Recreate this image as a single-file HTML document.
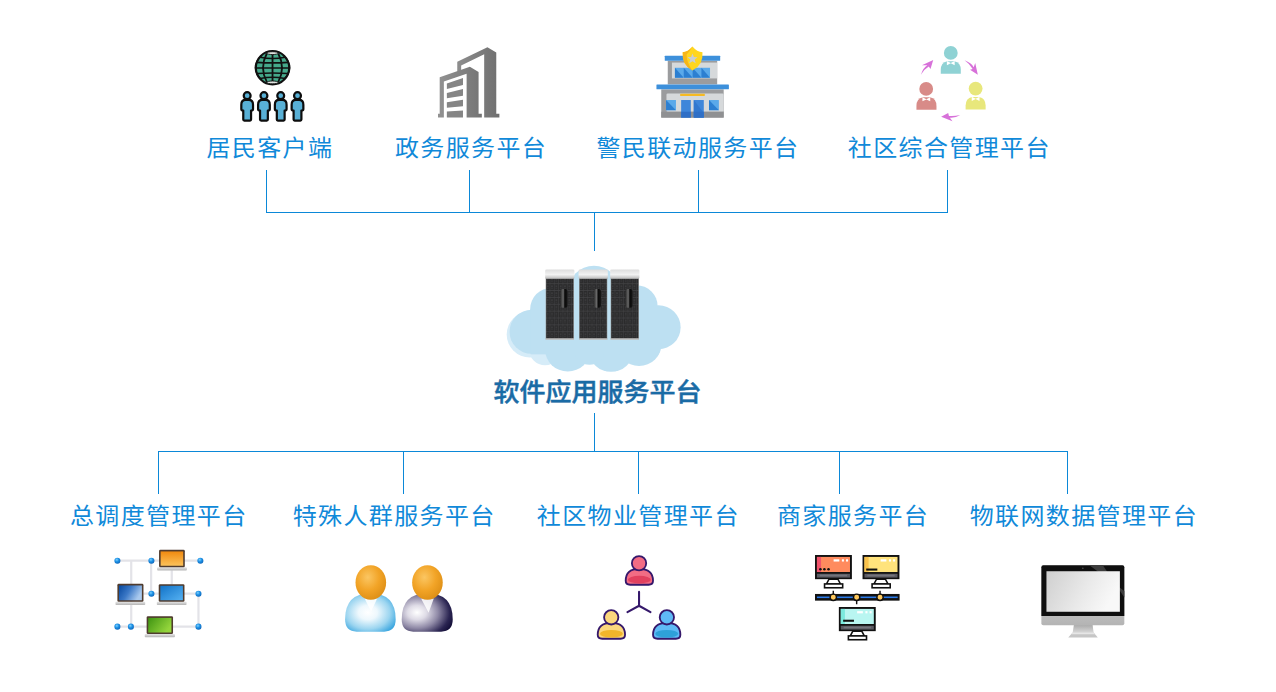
<!DOCTYPE html>
<html lang="zh-CN">
<head>
<meta charset="utf-8">
<title>软件应用服务平台</title>
<style>
html,body{margin:0;padding:0;background:#fff;}
body{width:1276px;height:692px;position:relative;overflow:hidden;font-family:"Liberation Sans","Noto Sans CJK SC",sans-serif;}
.lines{position:absolute;left:0;top:0;width:1276px;height:692px;}
.lb{position:absolute;white-space:nowrap;font-size:24px;letter-spacing:1.37px;line-height:30px;height:30px;color:#1089d9;font-weight:400;transform:scaleY(0.955);transform-origin:0 50%;}
.ct{position:absolute;white-space:nowrap;font-size:26px;line-height:30px;height:30px;color:#1a6ba5;font-weight:500;-webkit-text-stroke:0.45px #1a6ba5;transform:scaleY(0.95);transform-origin:0 50%;}
.ic{position:absolute;}
</style>
</head>
<body>
<svg class="lines" width="1276" height="692" viewBox="0 0 1276 692" shape-rendering="crispEdges">
<g fill="#0b88d8">
<rect x="266" y="170" width="1" height="43"/>
<rect x="469" y="170" width="1" height="43"/>
<rect x="698" y="170" width="1" height="43"/>
<rect x="947" y="170" width="1" height="43"/>
<rect x="266" y="212" width="682" height="1"/>
<rect x="594" y="212" width="1" height="39"/>
<rect x="594" y="413" width="1" height="39"/>
<rect x="158" y="451" width="910" height="1"/>
<rect x="158" y="451" width="1" height="43"/>
<rect x="403" y="451" width="1" height="43"/>
<rect x="638" y="451" width="1" height="43"/>
<rect x="839" y="451" width="1" height="43"/>
<rect x="1067" y="451" width="1" height="43"/>
</g>
</svg>

<div class="lb" id="t1" style="left:206.5px;top:133px;">居民客户端</div>
<div class="lb" id="t2" style="left:395px;top:133px;">政务服务平台</div>
<div class="lb" id="t3" style="left:596.5px;top:133px;">警民联动服务平台</div>
<div class="lb" id="t4" style="left:847.8px;top:133px;">社区综合管理平台</div>

<div class="ct" id="tc" style="left:493.5px;top:377px;">软件应用服务平台</div>

<div class="lb" id="b1" style="left:70px;top:501px;">总调度管理平台</div>
<div class="lb" id="b2" style="left:292.7px;top:501px;">特殊人群服务平台</div>
<div class="lb" id="b3" style="left:536.8px;top:501px;">社区物业管理平台</div>
<div class="lb" id="b4" style="left:777px;top:501px;">商家服务平台</div>
<div class="lb" id="b5" style="left:969.7px;top:501px;">物联网数据管理平台</div>


<!-- icon: residents client (globe + people) -->
<svg class="ic" style="left:230px;top:40px" width="90" height="90" viewBox="0 0 692 692">
  <circle cx="327" cy="213" r="128" fill="#45a98b" stroke="#111" stroke-width="16"/>
  <g fill="none" stroke="#111" stroke-width="14">
    <path d="M327 88V338"/>
    <path d="M283 104Q225 213 283 322"/>
    <path d="M371 104Q429 213 371 322"/>
    <path d="M240 122Q150 213 240 304" stroke-width="11"/>
    <path d="M414 122Q504 213 414 304" stroke-width="11"/>
    <path d="M232 132Q327 152 422 132" stroke-width="12"/>
    <path d="M208 172Q327 180 446 172" stroke-width="12"/>
    <path d="M200 215H454" stroke-width="12"/>
    <path d="M208 258Q327 250 446 258" stroke-width="12"/>
    <path d="M232 296Q327 276 422 296" stroke-width="12"/>
  </g>
  <ellipse cx="327" cy="101" rx="44" ry="11" fill="#dfe2df" stroke="#111" stroke-width="7"/>
  <ellipse cx="327" cy="326" rx="44" ry="11" fill="#dfe2df" stroke="#111" stroke-width="7"/>
  <g fill="#58b0d6" stroke="#0d0d0d" stroke-width="17" stroke-linejoin="round">
    <g id="pp">
      <path d="M120 461h24q33 0 33 36v36q0 9-15 9v70q0 8-8 8h-44q-8 0-8-8v-70q-15 0-15-9v-36q0-36 33-36z"/>
      <circle cx="132" cy="428" r="26.5"/>
    </g>
    <use href="#pp" x="129"/>
    <use href="#pp" x="258"/>
    <use href="#pp" x="387"/>
  </g>
</svg>

<!-- icon: government building -->
<svg class="ic" style="left:425px;top:35px" width="90" height="90" viewBox="0 0 692 692">
  <defs>
    <linearGradient id="bg1" x1="0" y1="0" x2="1" y2="0"><stop offset="0" stop-color="#8d8d8d"/><stop offset="1" stop-color="#6f6f6f"/></linearGradient>
    <linearGradient id="bg2" x1="0" y1="0" x2="1" y2="0"><stop offset="0" stop-color="#929292"/><stop offset="1" stop-color="#747474"/></linearGradient>
  </defs>
  <polygon fill="url(#bg1)" points="248,205 480,95 548,135 548,605 572,605 572,635 455,635 455,148 278,235 278,272 248,282"/>
  <polygon fill="url(#bg2)" points="113,325 345,245 412,285 412,605 437,605 437,635 320,635 320,298 145,358 145,635 100,635 100,605 113,605"/>
  <g fill="#858585">
    <polygon points="168,372 292,330 292,385 168,415"/>
    <polygon points="168,445 292,415 292,467 168,487"/>
    <polygon points="168,517 292,498 292,547 168,559"/>
    <polygon points="168,588 292,580 292,635 168,635"/>
  </g>
</svg>

<!-- icon: police station -->
<svg class="ic" style="left:645px;top:35px" width="90" height="90" viewBox="0 0 692 692">
  <rect x="175" y="198" width="380" height="182" fill="#9b9c9e"/>
  <rect x="207" y="212" width="348" height="122" fill="#d6d9db"/>
  <rect x="152" y="160" width="426" height="38" rx="4" fill="#3d90db"/>
  <g>
    <rect x="230" y="252" width="270" height="76" fill="#5aa9ea"/>
    <polygon points="230,252 298,328 230,328" fill="#2c7fd1"/>
    <polygon points="298,252 366,328 298,328" fill="#2c7fd1"/>
    <polygon points="366,252 434,328 366,328" fill="#2c7fd1"/>
    <polygon points="434,252 500,328 434,328" fill="#2c7fd1"/>
  </g>
  <path d="M365 88Q400 130 442 132Q450 230 365 272Q282 230 290 132Q330 130 365 88z" fill="#ffd61f"/>
  <path d="M365 88Q330 130 290 132Q282 230 365 272Q320 215 320 150Q345 125 365 88z" fill="#f6b519"/>
  <polygon points="365,143 376,170 404,171 382,189 390,217 365,201 340,217 348,189 326,171 354,170" fill="#c9ced3"/>
  <rect x="125" y="418" width="480" height="217" fill="#9b9c9e"/>
  <rect x="165" y="450" width="440" height="140" rx="10" fill="#d6d9db"/>
  <rect x="125" y="590" width="480" height="45" fill="#8f9092"/>
  <rect x="88" y="380" width="557" height="38" rx="4" fill="#3d90db"/>
  <rect x="270" y="452" width="190" height="17" rx="3" fill="#f6ba22"/>
  <rect x="162" y="500" width="76" height="78" fill="#5aa9ea"/><polygon points="162,500 238,578 162,578" fill="#2c7fd1"/>
  <rect x="492" y="500" width="76" height="78" fill="#5aa9ea"/><polygon points="492,500 568,578 492,578" fill="#2c7fd1"/>
  <rect x="278" y="500" width="74" height="135" fill="#3e86da"/>
  <rect x="375" y="500" width="77" height="135" fill="#3e86da"/>
  <polygon points="375,500 452,600 452,635 375,635" fill="#3278cf"/>
  <rect x="278" y="590" width="74" height="45" fill="#2f6fc6"/>
  <rect x="375" y="590" width="77" height="45" fill="#2f6fc6"/>
</svg>

<!-- icon: community management (people cycle) -->
<svg class="ic" style="left:905px;top:35px" width="90" height="90" viewBox="0 0 692 692">
  <g fill="#8fd2d4">
    <circle cx="352" cy="138" r="53"/>
    <path d="M275 297v-30q0-55 50-66h54q50 11 50 66v30z"/>
  </g>
  <path d="M352 216l-30-16v32l30-14 30 14v-32z" fill="#fff"/>
  <g fill="#d88b88">
    <circle cx="163" cy="415" r="53"/>
    <path d="M88 575v-30q0-55 50-66h54q50 11 50 66v30z"/>
  </g>
  <path d="M164 494l-30-16v32l30-14 30 14v-32z" fill="#fff"/>
  <g fill="#e8e77c">
    <circle cx="543" cy="412" r="53"/>
    <path d="M466 572v-30q0-55 50-66h54q50 11 50 66v30z"/>
  </g>
  <path d="M543 491l-30-16v32l30-14 30 14v-32z" fill="#fff"/>
  <g fill="#d771d9">
    <path d="M122 305Q140 250 172 232L130 232L217 193L196 262L183 243Q150 262 122 305z"/>
    <path d="M458 195Q510 215 528 248L540 215L560 305L500 268L520 262Q500 225 458 195z"/>
    <path d="M425 615Q385 640 345 636L365 663L278 628L332 600L338 622Q380 625 425 615z"/>
  </g>
</svg>

<!-- center: cloud + servers -->
<svg class="ic" style="left:500px;top:255px" width="190" height="125" viewBox="0 0 1052 692">
  <defs>
    <pattern id="mesh" width="24" height="38" patternUnits="userSpaceOnUse">
      <rect width="24" height="38" fill="#2b2b2c"/>
      <rect x="0" y="0" width="24" height="4" fill="#454547"/>
      <rect x="0" y="0" width="3" height="38" fill="#414143"/>
      <rect x="11" y="14" width="6" height="6" fill="#505052"/>
      <rect x="11" y="26" width="6" height="6" fill="#3e3e40"/>
    </pattern>
    <linearGradient id="cap" x1="0" y1="0" x2="0" y2="1"><stop offset="0" stop-color="#dcdcdc"/><stop offset="0.55" stop-color="#f2f2f2"/><stop offset="1" stop-color="#b9b9b9"/></linearGradient>
    <linearGradient id="hdl" x1="0" y1="0" x2="1" y2="0"><stop offset="0" stop-color="#2a2a2a"/><stop offset="0.4" stop-color="#6a6a6a"/><stop offset="0.62" stop-color="#0a0a0a"/><stop offset="1" stop-color="#161616"/></linearGradient>
    <g id="srv">
      <rect x="3" y="45" width="156" height="343" fill="#8e8e8e"/>
      <rect x="6" y="50" width="150" height="332" fill="url(#mesh)"/>
      <rect x="0" y="0" width="162" height="52" rx="8" fill="url(#cap)"/>
      <rect x="3" y="382" width="156" height="7" fill="#c9c9c9"/>
      <rect x="84" y="108" width="40" height="104" rx="14" fill="url(#hdl)"/>
    </g>
  </defs>
  <g fill="#d6ecf8">
    <circle cx="165" cy="440" r="128"/>
    <circle cx="250" cy="520" r="90"/>
  </g>
  <g fill="#bde0f2">
    <circle cx="520" cy="205" r="145"/>
    <circle cx="285" cy="300" r="118"/>
    <circle cx="175" cy="425" r="122"/>
    <circle cx="755" cy="285" r="118"/>
    <circle cx="878" cy="400" r="122"/>
    <ellipse cx="375" cy="525" rx="125" ry="120"/>
    <ellipse cx="615" cy="535" rx="120" ry="112"/>
    <ellipse cx="770" cy="490" rx="125" ry="125"/>
    <ellipse cx="495" cy="540" rx="80" ry="68"/>
    <rect x="170" y="300" width="710" height="250"/>
  </g>
  <use href="#srv" x="250" y="80"/>
  <use href="#srv" x="435" y="80"/>
  <use href="#srv" x="610" y="80"/>
</svg>

<!-- icon: dispatch network -->
<svg class="ic" style="left:105px;top:540px" width="110" height="110" viewBox="0 0 692 692">
  <defs>
    <linearGradient id="lo" x1="0" y1="0" x2="0" y2="1"><stop offset="0" stop-color="#f08a10"/><stop offset="1" stop-color="#fcc25a"/></linearGradient>
    <linearGradient id="ld" x1="0" y1="0" x2="1" y2="0.4"><stop offset="0" stop-color="#07489f"/><stop offset="0.5" stop-color="#3b78c6"/><stop offset="1" stop-color="#a9c9ee"/></linearGradient>
    <linearGradient id="lbm" x1="0" y1="0" x2="1" y2="1"><stop offset="0" stop-color="#1273c8"/><stop offset="1" stop-color="#55b1f2"/></linearGradient>
    <linearGradient id="lg" x1="0" y1="0" x2="1" y2="0.5"><stop offset="0" stop-color="#3f9412"/><stop offset="1" stop-color="#94d53c"/></linearGradient>
    <linearGradient id="lbase" x1="0" y1="0" x2="0" y2="1"><stop offset="0" stop-color="#e4e4e4"/><stop offset="1" stop-color="#b5b5b5"/></linearGradient>
    <radialGradient id="dot" cx="0.4" cy="0.35" r="0.7"><stop offset="0" stop-color="#7fd0ff"/><stop offset="0.45" stop-color="#1f93e6"/><stop offset="1" stop-color="#0b62b8"/></radialGradient>
  </defs>
  <g stroke="#e3e3e8" stroke-width="14" fill="none">
    <path d="M78 130H600"/>
    <path d="M165 130V545"/>
    <path d="M290 130V338"/>
    <path d="M420 190V280"/>
    <path d="M242 338H588"/>
    <path d="M588 338V545"/>
    <path d="M78 545H588"/>
  </g>
  <g>
    <rect x="328" y="172" width="187" height="20" rx="5" fill="url(#lbase)"/>
    <rect x="340" y="62" width="162" height="110" rx="8" fill="#4f3b2e"/>
    <rect x="350" y="72" width="142" height="90" fill="url(#lo)"/>
    <rect x="66" y="389" width="187" height="20" rx="5" fill="url(#lbase)"/>
    <rect x="78" y="276" width="164" height="113" rx="8" fill="#4f3b2e"/>
    <rect x="88" y="286" width="144" height="93" fill="url(#ld)"/>
    <rect x="326" y="389" width="187" height="20" rx="5" fill="url(#lbase)"/>
    <rect x="338" y="278" width="162" height="111" rx="8" fill="#4f3b2e"/>
    <rect x="348" y="288" width="142" height="91" fill="url(#lbm)"/>
    <rect x="250" y="592" width="190" height="20" rx="5" fill="url(#lbase)"/>
    <rect x="262" y="480" width="166" height="112" rx="8" fill="#4f3b2e"/>
    <rect x="272" y="490" width="146" height="92" fill="url(#lg)"/>
  </g>
  <g fill="url(#dot)">
    <circle cx="78" cy="130" r="19"/><circle cx="292" cy="130" r="19"/><circle cx="600" cy="130" r="19"/>
    <circle cx="292" cy="338" r="19"/><circle cx="588" cy="338" r="19"/>
    <circle cx="78" cy="545" r="19"/><circle cx="163" cy="545" r="19"/><circle cx="588" cy="545" r="19"/>
  </g>
</svg>

<!-- icon: special groups (two users) -->
<svg class="ic" style="left:335px;top:550px" width="130" height="100" viewBox="0 0 900 692">
  <defs>
    <radialGradient id="hd" cx="0.4" cy="0.35" r="0.75"><stop offset="0" stop-color="#fbc662"/><stop offset="0.5" stop-color="#f2a427"/><stop offset="1" stop-color="#d98a12"/></radialGradient>
    <radialGradient id="bb" cx="0.45" cy="0.5" r="0.62"><stop offset="0" stop-color="#ffffff"/><stop offset="0.3" stop-color="#eef8fd"/><stop offset="0.7" stop-color="#9cd5f0"/><stop offset="1" stop-color="#3fa8e0"/></radialGradient>
    <radialGradient id="bn" cx="0.3" cy="0.5" r="0.75"><stop offset="0" stop-color="#ffffff"/><stop offset="0.25" stop-color="#dedbe6"/><stop offset="0.55" stop-color="#8f89a6"/><stop offset="0.85" stop-color="#2b2552"/><stop offset="1" stop-color="#15103a"/></radialGradient>
  </defs>
  <path d="M70 480Q70 300 245 300Q420 300 420 480Q420 565 340 565H150Q70 565 70 480z" fill="url(#bb)"/>
  <polygon points="205,335 292,335 250,425" fill="#ffffff" opacity="0.85"/>
  <ellipse cx="248" cy="225" rx="106" ry="120" fill="url(#hd)"/>
  <path d="M462 480Q462 300 638 300Q815 300 815 480Q815 565 735 565H542Q462 565 462 480z" fill="url(#bn)"/>
  <polygon points="596,335 684,335 648,435" fill="#ffffff" opacity="0.85"/>
  <ellipse cx="640" cy="225" rx="106" ry="120" fill="url(#hd)"/>
</svg>

<!-- icon: property management (three linked users) -->
<svg class="ic" style="left:585px;top:545px" width="110" height="110" viewBox="0 0 692 692">
  <g stroke="#35186b" stroke-width="11.5" stroke-linejoin="round" stroke-linecap="round">
    <path d="M256 225Q256 150 340 150Q428 150 428 225Q428 250 400 250H284Q256 250 256 225z" fill="#f26c84"/>
    <path d="M80 565Q80 490 165 490Q252 490 252 565Q252 590 224 590H108Q80 590 80 565z" fill="#fbd77d"/>
    <path d="M428 565Q428 490 515 490Q600 490 600 565Q600 590 572 590H456Q428 590 428 565z" fill="#5fbaf6"/>
  </g>
  <ellipse cx="342" cy="218" rx="72" ry="24" fill="#e2415f"/>
  <ellipse cx="166" cy="558" rx="72" ry="24" fill="#f1b52b"/>
  <ellipse cx="514" cy="558" rx="72" ry="24" fill="#2ea1d9"/>
  <g stroke="#35186b" stroke-width="11.5">
    <circle cx="340" cy="115" r="45" fill="#f26c84"/>
    <circle cx="165" cy="455" r="45" fill="#fbd77d"/>
    <circle cx="515" cy="455" r="45" fill="#5fbaf6"/>
  </g>
  <path d="M340 295V382M340 382L267 422M340 382L412 422" stroke="#35186b" stroke-width="13" stroke-linecap="round" fill="none"/>
</svg>

<!-- icon: merchant services (networked monitors) -->
<svg class="ic" style="left:805px;top:545px" width="110" height="110" viewBox="0 0 692 692">
  <defs>
    <g id="mon">
      <rect x="0" y="0" width="232" height="152" fill="#111"/>
      <rect x="12" y="118" width="208" height="24" fill="#5b5b63"/>
      <rect x="30" y="124" width="172" height="10" fill="#74747c"/>
      <polygon points="88,152 144,152 160,182 72,182" fill="#fff" stroke="#111" stroke-width="10"/>
      <rect x="60" y="182" width="114" height="24" fill="#fff" stroke="#111" stroke-width="10"/>
    </g>
  </defs>
  <use href="#mon" x="63" y="63"/>
  <rect x="75" y="75" width="208" height="95" fill="#ff8b5e"/>
  <rect x="75" y="75" width="26" height="95" fill="#f2536c"/>
  <g fill="#fff"><rect x="180" y="90" width="36" height="14"/><rect x="232" y="90" width="13" height="14"/><rect x="258" y="90" width="13" height="14"/></g>
  <g fill="#111"><circle cx="97" cy="153" r="8"/><circle cx="122" cy="153" r="8"/><circle cx="148" cy="153" r="8"/></g>
  <use href="#mon" x="362" y="63"/>
  <rect x="374" y="75" width="208" height="95" fill="#ffe37c"/>
  <rect x="374" y="75" width="26" height="95" fill="#f9c24c"/>
  <g fill="#fff"><rect x="476" y="90" width="36" height="14"/><rect x="528" y="90" width="13" height="14"/><rect x="554" y="90" width="13" height="14"/></g>
  <rect x="385" y="148" width="70" height="13" fill="#111"/>
  <use href="#mon" x="213" y="390"/>
  <rect x="225" y="402" width="208" height="95" fill="#b9f6f1"/>
  <rect x="225" y="402" width="26" height="95" fill="#7be9dd"/>
  <g fill="#fff"><rect x="328" y="416" width="36" height="14"/><rect x="380" y="416" width="13" height="14"/><rect x="406" y="416" width="13" height="14"/></g>
  <rect x="240" y="470" width="68" height="13" fill="#111"/>
  <rect x="63" y="308" width="532" height="42" fill="#111"/>
  <rect x="75" y="324" width="508" height="10" fill="#2b7be9"/>
  <g stroke="#111" stroke-width="9"><path d="M178 288V310M472 288V310M325 350V372"/></g>
  <g fill="#ffc95c" stroke="#111" stroke-width="9"><circle cx="178" cy="329" r="20"/><circle cx="325" cy="329" r="20"/><circle cx="472" cy="329" r="20"/></g>
</svg>

<!-- icon: IoT data management (desktop monitor) -->
<svg class="ic" style="left:1025px;top:545px" width="130" height="110" viewBox="0 0 818 692">
  <defs>
    <linearGradient id="scr" x1="0" y1="0" x2="1" y2="0.3"><stop offset="0" stop-color="#cfcfcf"/><stop offset="0.6" stop-color="#e9e9e9"/><stop offset="1" stop-color="#f8f8f8"/></linearGradient>
    <linearGradient id="chin" x1="0" y1="0" x2="0" y2="1"><stop offset="0" stop-color="#dedede"/><stop offset="1" stop-color="#b4b4b4"/></linearGradient>
    <linearGradient id="neck" x1="0" y1="0" x2="0" y2="1"><stop offset="0" stop-color="#a8a8a8"/><stop offset="1" stop-color="#d8d8d8"/></linearGradient>
  </defs>
  <polygon points="308,500 425,500 432,552 300,552" fill="url(#neck)"/>
  <polygon points="300,550 432,550 458,582 272,582" fill="#c6c6c6"/>
  <polygon points="300,550 432,550 440,562 292,562" fill="#e6e6e6"/>
  <path d="M103 140Q103 128 115 128H613Q625 128 625 140V493Q625 505 613 505H115Q103 505 103 493z" fill="url(#chin)"/>
  <path d="M103 140Q103 128 115 128H613Q625 128 625 140V447H103z" fill="#0f0f0f"/>
  <polygon points="405,128 490,128 625,330 625,290 " fill="#3c3c3c"/>
  <rect x="135" y="165" width="462" height="255" fill="url(#scr)"/>
  <circle cx="364" cy="146" r="5" fill="#555"/>
</svg>
<!--ICONS-->
</body>
</html>
